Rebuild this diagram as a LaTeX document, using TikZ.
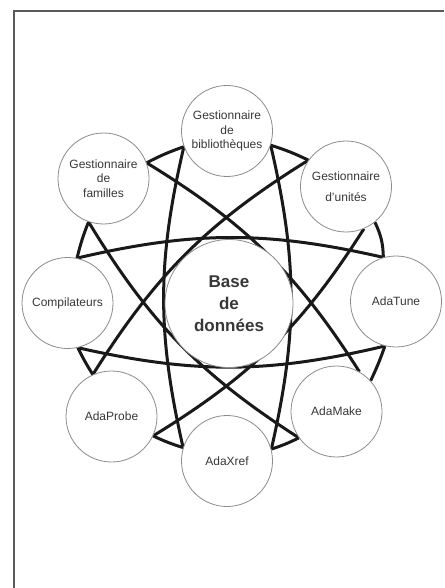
\documentclass[tikz,border=0pt]{standalone}
\usepackage{fontspec}
\setmainfont{Liberation Sans}
\usetikzlibrary{backgrounds}
\tikzset{
  % Outer modules
  module/.style={
    draw=black!45, circle, fill=white, line width=0.8pt,
    minimum size=91pt, inner sep=0pt, align=center,
    font=\fontsize{12}{14.5}\selectfont, text=black!78
  },
  % Central data base
  database/.style={
    module, minimum size=128pt,
    font=\fontsize{17}{22}\selectfont\bfseries
  },
  % Long arcs between opposite modules
  lens/.style={line width=3pt, draw=black!90},
  % Short arcs between neighbours
  ring/.style={line width=3pt, draw=black!90},
  frameline/.style={line width=1.4pt, draw=black!65},
}

\begin{document}
\begin{tikzpicture}[x=1pt, y=1pt]
  \useasboundingbox (0,0) rectangle (444,-588);

  %% -- Frame --
  \coordinate (frameBL) at (14,-588);
  \coordinate (frameTR) at (444,-11);
  \draw[frameline] (frameBL) |- (frameTR);

  %% -- Modules --
  \node[database] (base) at (229,-303.5) {Base\\de\\données};
  \node[module] (bib)   at (227,-131)   {Gestionnaire\\de\\bibliothèques};
  \node[module] (uni)   at (346,-186.5) {Gestionnaire\\[7pt]d'unités};
  \node[module] (tune)  at (396,-301.5) {AdaTune};
  \node[module] (make)  at (336.5,-411.5) {AdaMake};
  \node[module] (xref)  at (227,-461)   {AdaXref};
  \node[module] (probe) at (111.5,-416.5) {AdaProbe};
  \node[module] (comp)  at (67.5,-303)  {Compilateurs};
  \node[module] (fam)   at (103.5,-178.5) {Gestionnaire\\de\\familles};

  \begin{scope}[on background layer]
    %% -- Long arcs --
    \draw[lens] (comp.78)  to[bend left=13]  (tune.106);
    \draw[lens] (comp.283) to[bend right=13] (tune.256);
    \draw[lens] (bib.200)  to[bend right=13] (xref.163);
    \draw[lens] (bib.342)  to[bend left=13]  (xref.15);
    \draw[lens] (fam.20)   to[bend left=13]  (make.60);
    \draw[lens] (fam.251)  to[bend right=13] (make.215);
    \draw[lens] (uni.145)  to[bend right=13] (probe.114);
    \draw[lens] (uni.293)  to[bend left=13]  (probe.335);

    %% -- Short arcs --
    \draw[ring] (fam.20)    to[bend left=4]  (bib.200);
    \draw[ring] (bib.342)   to[bend left=4]  (uni.145);
    \draw[ring] (uni.309)   to[bend left=12] (tune.106);
    \draw[ring] (tune.256)  to[bend left=3]  (make.42);
    \draw[ring] (make.215)  to[bend left=4]  (xref.15);
    \draw[ring] (xref.163)  to[bend left=4]  (probe.335);
    \draw[ring] (probe.114) to[bend left=3]  (comp.283);
    \draw[ring] (comp.78)   to[bend left=4]  (fam.251);
  \end{scope}

\end{tikzpicture}
\end{document}
